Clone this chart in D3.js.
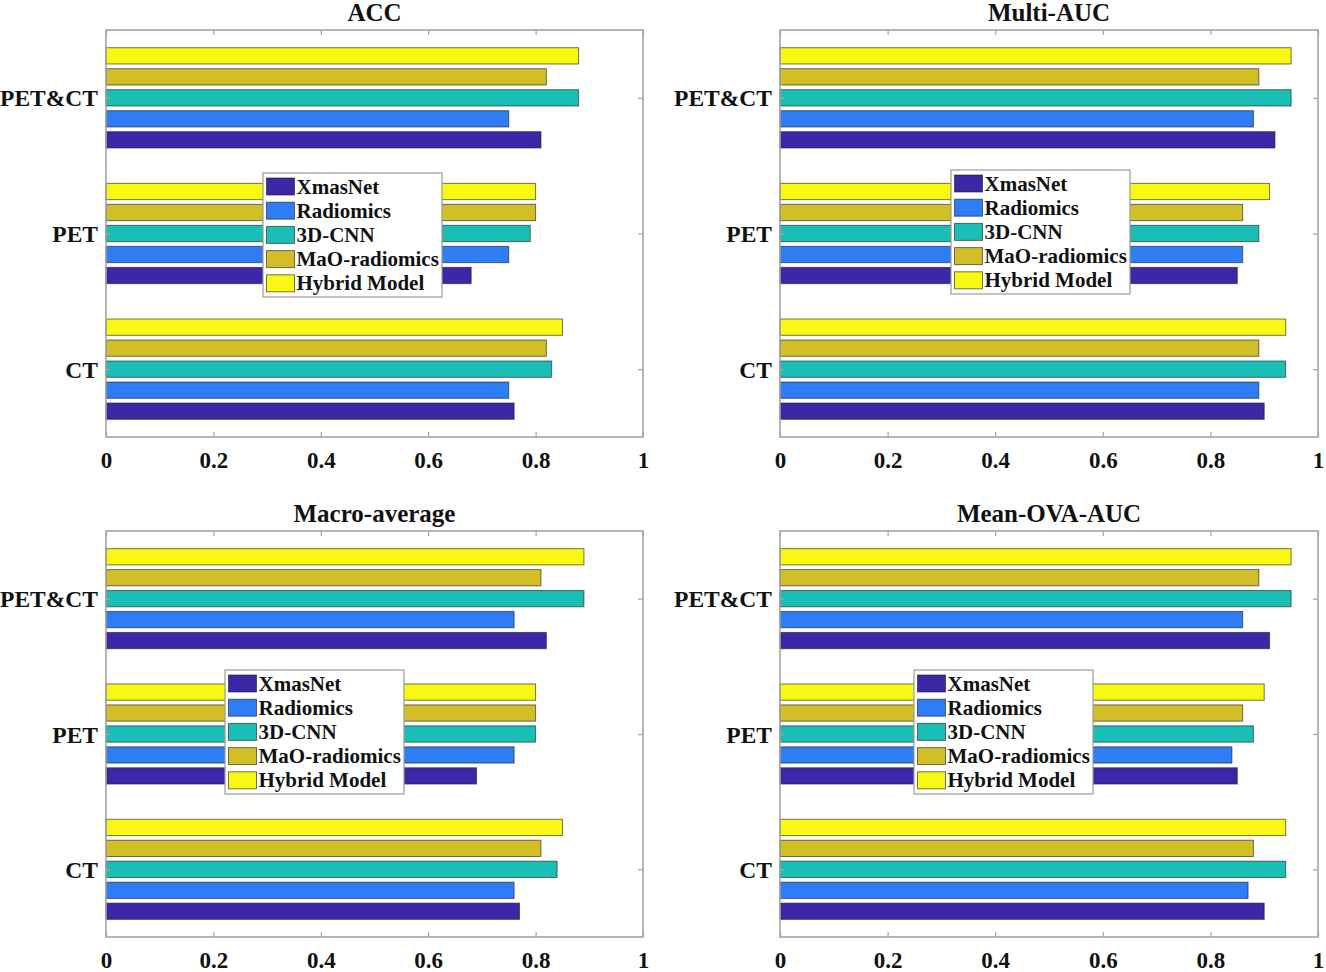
<!DOCTYPE html>
<html>
<head>
<meta charset="utf-8">
<script src="https://cdn.jsdelivr.net/npm/d3@7"></script>
<style>
  html, body { margin: 0; padding: 0; background: #ffffff; }
  svg { display: block; }
  text { font-family: "Liberation Serif", "Times New Roman", serif; font-weight: bold; fill: #111; }
</style>
</head>
<body>
<svg id="chart" width="1326" height="972"></svg>
<script>
// ---------------- data ----------------
const categories = ["CT", "PET", "PET&CT"];            // bottom -> top
const seriesNames = ["XmasNet", "Radiomics", "3D-CNN", "MaO-radiomics", "Hybrid Model"];
const seriesColors = ["#3C27A8", "#2E7CF6", "#19BFB4", "#D2BF28", "#F8F812"];
const xTickValues = [0, 0.2, 0.4, 0.6, 0.8, 1];
const xTickLabels = ["0", "0.2", "0.4", "0.6", "0.8", "1"];
const metricTitles = ["ACC", "Multi-AUC", "Macro-average", "Mean-OVA-AUC"];

// values[series][category]  (categories: CT, PET, PET&CT)
const accValues = [
  [0.76, 0.68, 0.81],   // XmasNet
  [0.75, 0.75, 0.75],   // Radiomics
  [0.83, 0.79, 0.88],   // 3D-CNN
  [0.82, 0.80, 0.82],   // MaO-radiomics
  [0.85, 0.80, 0.88]    // Hybrid Model
];
const multiAucValues = [
  [0.90, 0.85, 0.92],
  [0.89, 0.86, 0.88],
  [0.94, 0.89, 0.95],
  [0.89, 0.86, 0.89],
  [0.94, 0.91, 0.95]
];
const macroAvgValues = [
  [0.77, 0.69, 0.82],
  [0.76, 0.76, 0.76],
  [0.84, 0.80, 0.89],
  [0.81, 0.80, 0.81],
  [0.85, 0.80, 0.89]
];
const meanOvaAucValues = [
  [0.90, 0.85, 0.91],
  [0.87, 0.84, 0.86],
  [0.94, 0.88, 0.95],
  [0.88, 0.86, 0.89],
  [0.94, 0.90, 0.95]
];
const metricValues = [accValues, multiAucValues, macroAvgValues, meanOvaAucValues];

// ---------------- layout ----------------
const panels = [
  { x0: 106, x1: 643,  y0: 30,  y1: 437, lx: 263, ly: 173 },
  { x0: 780, x1: 1318, y0: 30,  y1: 437, lx: 951, ly: 170 },
  { x0: 106, x1: 643,  y0: 531, y1: 937, lx: 225, ly: 670 },
  { x0: 780, x1: 1318, y0: 531, y1: 937, lx: 914, ly: 670 }
];

const svg = d3.select("#chart");
const axisColor = "#a3a3a3";
const edgeColor = "rgba(25,25,25,0.6)";

panels.forEach((p, i) => {
  const vals = metricValues[i];
  const g = svg.append("g");

  const x = d3.scaleLinear().domain([0, 1]).range([p.x0, p.x1]);
  // categories top -> bottom
  const y = d3.scaleBand().domain(categories.slice().reverse()).range([p.y0, p.y1]).paddingInner(0).paddingOuter(0);
  // series: Hybrid on top, XmasNet at bottom
  const ys = d3.scaleBand().domain(seriesNames.slice().reverse()).range([0, y.bandwidth()])
    .paddingInner(0.224).paddingOuter(0.842);

  // bars
  seriesNames.forEach((s, si) => {
    g.append("g").selectAll("rect")
      .data(categories.map((c, ci) => ({ c, v: vals[si][ci] })))
      .join("rect")
      .attr("x", x(0))
      .attr("y", d => y(d.c) + ys(s))
      .attr("width", d => x(d.v) - x(0))
      .attr("height", ys.bandwidth())
      .attr("fill", seriesColors[si])
      .attr("stroke", edgeColor)
      .attr("stroke-width", 1);
  });

  // axes (ticks inward)
  const fmt = d => xTickLabels[xTickValues.indexOf(d)];
  const bottom = g.append("g").attr("transform", `translate(0,${p.y1})`)
    .call(d3.axisBottom(x).tickValues(xTickValues).tickSize(-5).tickFormat(fmt));
  bottom.select(".domain").remove();
  bottom.selectAll(".tick line").attr("stroke", axisColor).attr("stroke-width", 1.2);
  bottom.selectAll(".tick text").attr("y", 31).attr("dy", 0)
    .style("font-size", "23px").style("font-family", "'Liberation Serif', serif").style("font-weight", "bold").attr("fill", "#111");

  const top = g.append("g").attr("transform", `translate(0,${p.y0})`)
    .call(d3.axisTop(x).tickValues(xTickValues).tickSize(-5).tickFormat(""));
  top.select(".domain").remove();
  top.selectAll(".tick line").attr("stroke", axisColor).attr("stroke-width", 1.2);

  const yPoint = d3.scalePoint().domain(y.domain()).range([p.y0 + y.bandwidth() / 2, p.y1 - y.bandwidth() / 2]);
  const left = g.append("g").attr("transform", `translate(${p.x0},0)`)
    .call(d3.axisLeft(yPoint).tickSize(-5));
  left.select(".domain").remove();
  left.selectAll(".tick line").attr("stroke", axisColor).attr("stroke-width", 1.2);
  left.selectAll(".tick text").attr("x", -8).attr("dy", "0.34em")
    .style("font-size", "23.5px").style("font-family", "'Liberation Serif', serif").style("font-weight", "bold").attr("fill", "#111");

  const right = g.append("g").attr("transform", `translate(${p.x1},0)`)
    .call(d3.axisRight(yPoint).tickSize(-5).tickFormat(""));
  right.select(".domain").remove();
  right.selectAll(".tick line").attr("stroke", axisColor).attr("stroke-width", 1.2);

  // box
  g.append("rect").attr("x", p.x0).attr("y", p.y0).attr("width", p.x1 - p.x0).attr("height", p.y1 - p.y0)
    .attr("fill", "none").attr("stroke", axisColor).attr("stroke-width", 1.6);

  // title
  g.append("text").attr("x", (p.x0 + p.x1) / 2).attr("y", p.y0 - 9.5)
    .attr("text-anchor", "middle").style("font-size", "25px").text(metricTitles[i]);

  // legend
  const lw = 179, lh = 124, rowH = 24.2;
  const lg = g.append("g").attr("transform", `translate(${p.lx},${p.ly})`);
  lg.append("rect").attr("width", lw).attr("height", lh).attr("fill", "#fff")
    .attr("stroke", "#9a9a9a").attr("stroke-width", 1.2);
  seriesNames.forEach((s, si) => {
    const cy = 13.5 + si * rowH;
    lg.append("rect").attr("x", 3.5).attr("y", cy - 8.5).attr("width", 28).attr("height", 17)
      .attr("fill", seriesColors[si]).attr("stroke", edgeColor).attr("stroke-width", 1);
    lg.append("text").attr("x", 33.5).attr("y", cy + 7).style("font-size", "21px").text(s);
  });
});
</script>
</body>
</html>
